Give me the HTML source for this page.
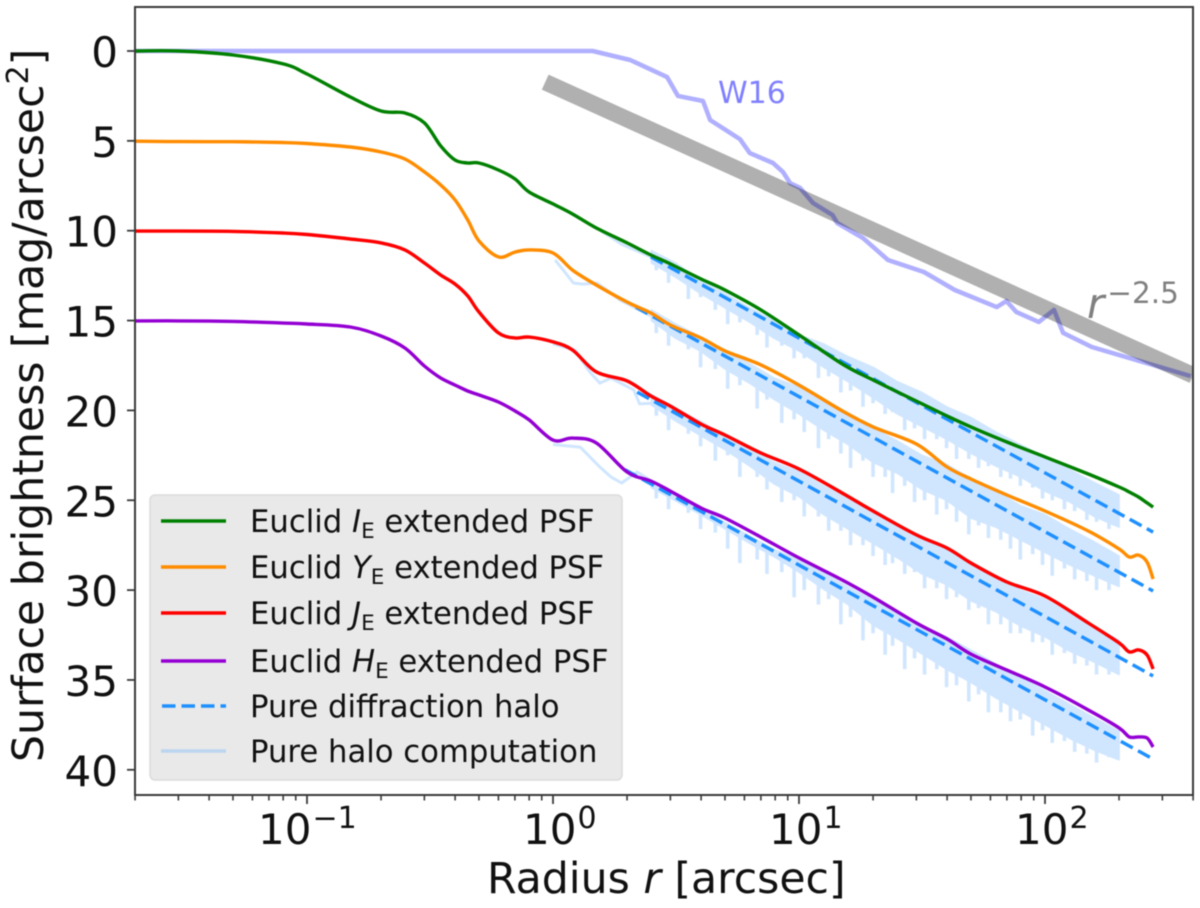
<!DOCTYPE html>
<html>
<head>
<meta charset="utf-8">
<title>Euclid extended PSF surface brightness</title>
<style>
html,body{margin:0;padding:0;background:#fff;}
svg{display:block;font-family:"DejaVu Sans","Liberation Sans",sans-serif;filter:blur(0.45px);}
</style>
</head>
<body>
<svg id="chart" xmlns="http://www.w3.org/2000/svg" width="1200" height="908" viewBox="0 0 1200 908">
  <defs><clipPath id="plot-clip"><rect x="135" y="7" width="1058" height="788"/></clipPath></defs>
  <rect x="0" y="0" width="1200" height="908" fill="#fff"/>
  <g id="marks" clip-path="url(#plot-clip)"></g>
  <rect x="135" y="7" width="1058" height="788" fill="none" stroke="#3a3a3a" stroke-width="2"/>
  <g id="ticks"></g>
  <text x="718" y="103" font-size="30" fill="#8080ff">W16</text>
  <text x="1087" y="318" font-size="42" fill="#808080"><tspan font-style="italic">r</tspan><tspan dx="3" dy="-15" font-size="29.5">−2.5</tspan></text>
  <text x="487" y="893" font-size="42.6" fill="#111">Radius <tspan font-style="italic">r</tspan> [arcsec]</text>
  <text transform="translate(43,762) rotate(-90)" x="0" y="0" font-size="42.6" fill="#111">Surface brightness [mag/arcsec<tspan dy="-15" font-size="30">2</tspan><tspan dy="15">]</tspan></text>
  <g>
    <rect x="150" y="495" width="472" height="285" rx="5" fill="#e9e9e9" stroke="#dcdcdc" stroke-width="1.5"/>
    <g>
      <line x1="161" y1="521" x2="226" y2="521" stroke="#008000" stroke-width="3.4"/>
      <text x="250" y="532" font-size="30.7" fill="#111">Euclid <tspan font-style="italic">I</tspan><tspan font-size="21.5" dy="6">E</tspan><tspan dy="-6"> extended PSF</tspan></text>
    </g>
    <g>
      <line x1="161" y1="567" x2="226" y2="567" stroke="#ff8c00" stroke-width="3.4"/>
      <text x="250" y="578" font-size="30.7" fill="#111">Euclid <tspan font-style="italic">Y</tspan><tspan font-size="21.5" dy="6">E</tspan><tspan dy="-6"> extended PSF</tspan></text>
    </g>
    <g>
      <line x1="161" y1="613" x2="226" y2="613" stroke="#ff0000" stroke-width="3.4"/>
      <text x="250" y="624" font-size="30.7" fill="#111">Euclid <tspan font-style="italic">J</tspan><tspan font-size="21.5" dy="6">E</tspan><tspan dy="-6"> extended PSF</tspan></text>
    </g>
    <g>
      <line x1="161" y1="661" x2="226" y2="661" stroke="#9400d3" stroke-width="3.4"/>
      <text x="250" y="672" font-size="30.7" fill="#111">Euclid <tspan font-style="italic">H</tspan><tspan font-size="21.5" dy="6">E</tspan><tspan dy="-6"> extended PSF</tspan></text>
    </g>
    <g>
      <line x1="162" y1="706" x2="226" y2="706" stroke="#1e90ff" stroke-width="3.4" stroke-dasharray="13.5 6"/>
      <text x="250" y="717" font-size="30.7" fill="#111">Pure diffraction halo</text>
    </g>
    <g>
      <line x1="161" y1="751" x2="226" y2="751" stroke="#bcd6ef" stroke-width="3.4"/>
      <text x="250" y="762" font-size="30.7" fill="#111">Pure halo computation</text>
    </g>
  </g>
</svg>
<script>
// ---- axis ticks ----
const xMajorTicks = [0.1, 1, 10, 100];
const xMajorLabels = ["−1", "0", "1", "2"];
const xMinorTicks = [0.02,0.03,0.04,0.05,0.06,0.07,0.08,0.09,0.2,0.3,0.4,0.5,0.6,0.7,0.8,0.9,2,3,4,5,6,7,8,9,20,30,40,50,60,70,80,90,200,300,400];
const yTicks = [0, 5, 10, 15, 20, 25, 30, 35, 40];
const yTickLabels = ["0", "5", "10", "15", "20", "25", "30", "35", "40"];

// ---- extended PSF profiles: radius [arcsec], surface brightness [mag/arcsec^2] ----
const psfRadius = [0.02,0.03,0.05,0.08,0.1,0.15,0.2,0.25,0.3,0.35,0.4,0.45,0.5,0.6,0.7,0.8,1,1.2,1.5,2,2.5,3,4,5,7,10,15,20,30,40,50,70,100,150,200,220,240,260,275];
const psfIE = [0,0,0.22,0.72,1.28,2.56,3.34,3.45,4.0,5.29,6.07,6.23,6.23,6.62,7.12,7.85,8.51,9.07,9.85,10.68,11.35,11.85,12.69,13.3,14.41,15.8,17.42,18.31,19.48,20.31,20.92,21.76,22.59,23.54,24.26,24.54,24.82,25.15,25.38];
const psfYE = [5.02,5.04,5.05,5.09,5.15,5.34,5.62,6.01,6.73,7.46,8.29,9.40,10.57,11.46,11.19,11.07,11.24,12.19,13.02,13.97,14.58,15.25,15.97,16.69,17.47,18.59,20.03,20.92,21.87,23.15,23.82,24.71,25.6,26.71,27.71,28.16,28.05,28.44,29.38];
const psfJE = [10.02,10.02,10.04,10.13,10.21,10.46,10.68,11.07,11.8,12.47,12.97,13.63,14.52,15.69,15.97,15.92,16.19,16.64,17.86,18.36,19.2,19.76,20.76,21.37,22.37,23.26,24.6,25.6,26.93,27.66,28.49,29.55,30.33,31.83,32.94,33.44,33.33,33.61,34.39];
const psfHE = [15.02,15.02,15.05,15.14,15.19,15.36,15.86,16.53,17.53,18.2,18.59,18.92,19.14,19.53,20.03,20.53,21.65,21.54,21.81,23.43,23.93,24.49,25.43,25.99,27.05,28.21,29.44,30.39,31.83,32.72,33.56,34.45,35.39,36.67,37.67,38.17,38.17,38.23,38.73];

// ---- W16 reference profile ----
const w16Radius = [0.02,1.45,2.06,2.91,3.22,4.07,4.35,5.75,6.31,7.84,8.6,9.2,10.1,11.4,13.7,14.3,18.2,23,32.2,43,63.6,69.7,76.4,94.4,108.8,118.5,155,258,391];
const w16Mag = [0,0,0.5,1.45,2.5,2.78,3.84,4.9,5.68,6.23,6.73,7.35,7.62,8.46,9.13,9.57,10.41,11.63,12.3,13.3,14.25,13.91,14.52,15.08,14.41,15.69,16.47,17.36,18.09];

// ---- r^-2.5 guide line ----
const guideRadius = [0.93, 400];
const guideMag = [1.73, 18.05];

// ---- pure diffraction halo (dashed) ----
const diffractionRadiusIE = [2.5, 275];
const diffractionMagIE = [11.46, 26.77];
const diffractionRadiusYE = [2.17, 275];
const diffractionMagYE = [14.25, 30.05];
const diffractionRadiusJE = [2.2, 275];
const diffractionMagJE = [18.98, 34.78];
const diffractionRadiusHE = [1.96, 275];
const diffractionMagHE = [23.3, 39.4];

// ---- pure halo computation: body of the oscillating profile ----
const haloRadius = [2.51,3.16,3.98,5.01,6.31,7.94,10,12.6,15.8,20,25.1,31.6,39.8,50.1,63.1,79.4,100,126,158,200];
const haloUpperIE = [11.1,11.8,12.8,13.5,14.3,15.0,15.8,16.3,17.0,17.6,18.4,19.0,19.8,20.4,21.2,21.9,22.6,23.3,24.0,24.7];
const haloLowerIE = [11.8,12.6,13.5,14.3,15.1,16.0,16.7,17.6,18.4,19.3,20.2,20.9,21.6,22.4,23.1,23.7,24.5,25.1,25.9,26.5];
const haloUpperYE = [14.4,15.2,15.9,16.7,17.4,18.2,18.7,19.5,20.2,21.0,21.7,22.5,23.0,23.8,24.5,25.3,25.8,26.6,27.3,28.1];
const haloLowerYE = [15.0,16.0,16.7,17.7,18.5,19.4,20.2,21.1,21.9,22.9,23.5,24.4,25.0,26.0,26.5,27.2,27.9,28.6,29.2,29.8];
const haloUpperJE = [19.1,19.9,20.6,21.4,22.1,22.9,23.4,24.2,24.9,25.7,26.4,27.2,27.7,28.5,29.2,30.0,30.5,31.3,32.0,32.8];
const haloLowerJE = [19.7,20.6,21.4,22.2,23.1,24.1,24.8,25.8,26.6,27.4,28.2,29.1,29.7,30.6,31.2,32.0,32.6,33.4,34.0,34.7];
const haloUpperHE = [24.0,24.75,25.5,26.25,27.0,27.75,28.3,29.05,29.8,30.55,31.3,32.05,32.6,33.35,34.1,34.85,35.6,36.35,37.1,37.85];
const haloLowerHE = [24.3,25.05,25.8,26.6,27.4,28.15,29.0,29.95,30.8,31.95,32.7,33.55,34.4,35.15,36.0,36.75,37.5,38.25,38.9,39.45];

// ---- pure halo computation: deep minima of the oscillation ----
const haloDipRadius = [2.63,2.95,3.55,3.98,4.57,5.13,5.75,6.76,7.41,8.51,9.55,10.5,12,13.2,14.8,16.2,18.2,20,22.4,24,26.9,29.5,32.4,36.3,39.8,43.7,49,53.7,58.9,66.1,72.4,79.4,89.1,97.7,107,120,132,148,162,182];
const haloDipIE = [12.2,12.9,13.8,13.7,14.4,15.2,15.1,15.8,16.5,16.4,17.1,17.1,18.2,18.1,19.0,18.9,19.8,19.6,20.2,20.1,21.1,21.0,21.6,21.6,22.1,22.7,22.7,23.2,23.1,23.7,23.8,24.2,24.3,24.9,25.0,25.5,25.6,26.1,26.2,26.6];
const haloDipYE = [15.7,16.4,16.6,17.6,17.7,18.8,18.6,19.9,19.4,20.7,20.5,21.2,22.1,21.6,22.4,23.2,22.8,23.7,23.7,24.6,24.2,25.1,25.0,25.8,25.5,26.2,26.9,26.4,27.1,27.2,27.7,28.3,28.0,28.6,29.2,28.8,29.4,29.5,30.0,30.0];
const haloDipJE = [20.3,21.1,21.3,22.0,22.8,22.5,23.7,23.7,24.4,25.1,25.0,25.9,25.9,26.7,26.7,27.5,27.5,28.1,28.6,28.5,29.1,29.0,29.9,29.9,30.5,30.4,31.1,31.0,31.9,31.9,32.4,32.4,32.9,32.9,33.6,33.5,34.1,34.2,34.7,34.7];
const haloDipHE = [24.9,25.5,25.7,26.6,26.8,27.7,28.5,28.3,29.1,29.0,30.4,30.0,30.8,30.5,31.9,31.5,32.8,32.4,33.6,33.1,34.4,33.8,34.7,34.4,35.4,35.3,36.2,35.8,36.8,36.8,37.3,37.2,38.1,37.8,38.5,38.4,39.0,39.1,39.6,39.3];

// ---- pure halo computation, inner radii ----
const haloInnerRadiusIE = [1.55,1.9,2.5];
const haloInnerMagIE = [9.96,10.75,11.46];
const haloInnerRadiusYE = [1.02,1.1,1.21,1.32,1.51,1.7,1.87,2.51];
const haloInnerMagYE = [11.63,12.19,12.91,12.97,12.91,13.41,13.86,14.75];
const haloInnerRadiusJE = [1,1.23,1.41,1.55,1.72,2.13,2.25,2.51];
const haloInnerMagJE = [16.3,16.64,17.86,18.48,18.2,18.86,19.64,19.6];
const haloInnerRadiusHE = [1,1.29,1.55,1.72,1.9,2.2,2.51];
const haloInnerMagHE = [21.9,22.04,23.15,23.7,24.04,23.43,23.93];

// ---- axis functions ----
const NS = "http://www.w3.org/2000/svg";
function xScale(r) { return 553 + 246 * Math.log10(r); }
function yScale(m) { return 51 + 17.97 * m; }
function linePoints(radii, mags) {
  return radii.map(function (r, i) { return xScale(r).toFixed(1) + "," + yScale(mags[i]).toFixed(1); }).join(" ");
}
function smoothPath(radii, mags) {
  const p = radii.map(function (r, i) { return [xScale(r), yScale(mags[i])]; });
  let d = "M" + p[0][0].toFixed(1) + " " + p[0][1].toFixed(1);
  for (let i = 0; i < p.length - 1; i++) {
    const a = p[Math.max(i - 1, 0)], b = p[i], c = p[i + 1], e = p[Math.min(i + 2, p.length - 1)];
    d += " C" + (b[0] + (c[0] - a[0]) / 6).toFixed(1) + " " + (b[1] + (c[1] - a[1]) / 6).toFixed(1) +
         " " + (c[0] - (e[0] - b[0]) / 6).toFixed(1) + " " + (c[1] - (e[1] - b[1]) / 6).toFixed(1) +
         " " + c[0].toFixed(1) + " " + c[1].toFixed(1);
  }
  return d;
}
function edgeAt(r, radii, values) {
  const lr = Math.log10(r);
  for (let i = 0; i < radii.length - 1; i++) {
    const a = Math.log10(radii[i]), b = Math.log10(radii[i + 1]);
    if (lr <= b) return values[i] + (values[i + 1] - values[i]) * (lr - a) / (b - a);
  }
  return values[values.length - 1];
}
function make(tag, parent, attrs) {
  const el = document.createElementNS(NS, tag);
  Object.keys(attrs).forEach(function (k) { el.setAttribute(k, attrs[k]); });
  parent.appendChild(el);
  return el;
}
const marks = document.getElementById("marks");
const ticks = document.getElementById("ticks");
const haloColor = "#d0e6ff";

function drawBand(name, upper, lower, dips) {
  const top = linePoints(haloRadius, upper);
  const bottom = linePoints(haloRadius.slice().reverse(), lower.slice().reverse());
  const body = make("polygon", marks, { points: top + " " + bottom, fill: haloColor, stroke: haloColor, "stroke-width": 1.5, "stroke-linejoin": "round" });
  
  
  dips.forEach(function (m, i) {
    const r = haloDipRadius[i];
    const x = xScale(r);
    const start = edgeAt(r, haloRadius, upper);
    const dip = make("line", marks, { x1: x, y1: yScale(start), x2: x, y2: yScale(m), stroke: haloColor, "stroke-width": 3.6 });
    
    
  });
}
function drawLine(name, radii, mags, color, width, dash) {
  const el = make("polyline", marks, { points: linePoints(radii, mags), fill: "none", stroke: color, "stroke-width": width, "stroke-linejoin": "round" });
  if (dash) el.setAttribute("stroke-dasharray", dash);
  
  
}
function drawSmooth(name, radii, mags, color, width) {
  const el = make("path", marks, { d: smoothPath(radii, mags), fill: "none", stroke: color, "stroke-width": width, "stroke-linejoin": "round" });
  
  
}

// halo computation
drawBand("halo-band-ie", haloUpperIE, haloLowerIE, haloDipIE);
drawBand("halo-band-ye", haloUpperYE, haloLowerYE, haloDipYE);
drawBand("halo-band-je", haloUpperJE, haloLowerJE, haloDipJE);
drawBand("halo-band-he", haloUpperHE, haloLowerHE, haloDipHE);
drawLine("halo-inner-ie", haloInnerRadiusIE, haloInnerMagIE, haloColor, 3);
drawLine("halo-inner-ye", haloInnerRadiusYE, haloInnerMagYE, haloColor, 3);
drawLine("halo-inner-je", haloInnerRadiusJE, haloInnerMagJE, haloColor, 3);
drawLine("halo-inner-he", haloInnerRadiusHE, haloInnerMagHE, haloColor, 3);

// diffraction halo
drawLine("diffraction-line-ie", diffractionRadiusIE, diffractionMagIE, "#1e90ff", 3.4, "13.5 6");
drawLine("diffraction-line-ye", diffractionRadiusYE, diffractionMagYE, "#1e90ff", 3.4, "13.5 6");
drawLine("diffraction-line-je", diffractionRadiusJE, diffractionMagJE, "#1e90ff", 3.4, "13.5 6");
drawLine("diffraction-line-he", diffractionRadiusHE, diffractionMagHE, "#1e90ff", 3.4, "13.5 6");

// W16 and guide
drawLine("w16-profile", w16Radius, w16Mag, "#b0b0ff", 4.5);
const guide = make("polyline", marks, { points: linePoints(guideRadius, guideMag), fill: "none", stroke: "#000", "stroke-opacity": 0.31, "stroke-width": 16.5 });



// extended PSF
drawSmooth("psf-line-he", psfRadius, psfHE, "#9400d3", 3.4);
drawSmooth("psf-line-je", psfRadius, psfJE, "#ff0000", 3.4);
drawSmooth("psf-line-ye", psfRadius, psfYE, "#ff8c00", 3.4);
drawSmooth("psf-line-ie", psfRadius, psfIE, "#008000", 3.4);

// ticks and labels
xMinorTicks.forEach(function (v) {
  const x = xScale(v);
  const t = make("line", ticks, { x1: x, y1: 795, x2: x, y2: 800.5, stroke: "#3a3a3a", "stroke-width": 1.6 });
  
  
});
xMajorTicks.forEach(function (v, i) {
  const x = xScale(v);
  const t = make("line", ticks, { x1: x, y1: 795, x2: x, y2: 804, stroke: "#3a3a3a", "stroke-width": 1.8 });
  
  
  const label = make("text", ticks, { x: x - 49 + (xMajorLabels[i].length > 1 ? 0 : 19), y: 844, "font-size": 42, fill: "#111" });
  
  
  label.appendChild(document.createTextNode("10"));
  const sup = make("tspan", label, { dy: -16, dx: 1, "font-size": 30 });
  sup.textContent = xMajorLabels[i];
});
yTicks.forEach(function (v, i) {
  const y = yScale(v);
  const t = make("line", ticks, { x1: 127, y1: y, x2: 135, y2: y, stroke: "#3a3a3a", "stroke-width": 1.8 });
  
  
  const label = make("text", ticks, { x: 118, y: y + 16, "font-size": 42, fill: "#111", "text-anchor": "end" });
  
  
  label.textContent = yTickLabels[i];
});
</script>
</body>
</html>
